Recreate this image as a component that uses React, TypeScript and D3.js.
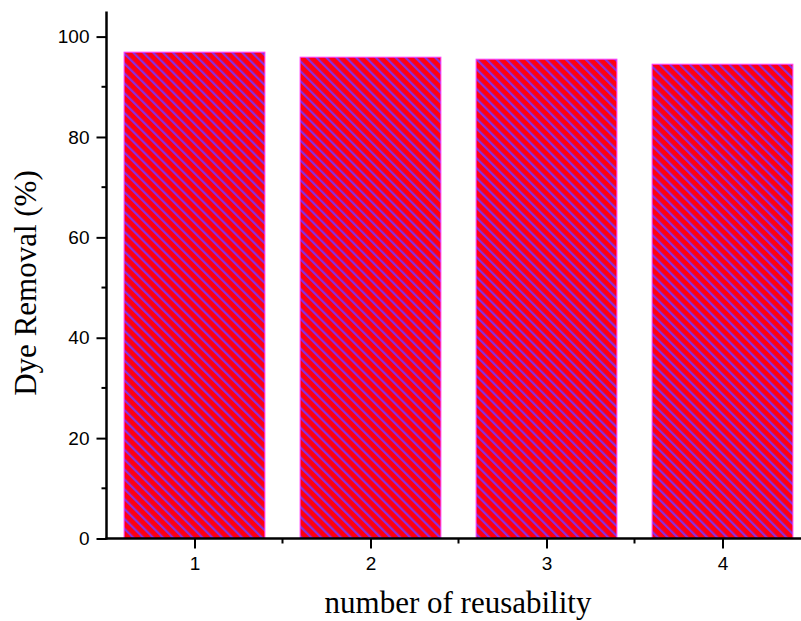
import React, { useEffect, useRef } from "react";
import * as d3 from "d3";

const cycles = [1, 2, 3, 4];
const removal = [96.9, 95.9, 95.5, 94.5];
const yTicks = [0, 20, 40, 60, 80, 100];
const yMinor = [10, 30, 50, 70, 90];
const xMinor = [1.5, 2.5, 3.5];

export default function App() {
  const svgRef = useRef<SVGSVGElement | null>(null);

  useEffect(() => {
    if (!svgRef.current) return;
    const svg = d3.select(svgRef.current);
    svg.selectAll("*").remove();

    const x = d3.scaleLinear().domain([0.5, 4.5]).range([106.5, 810.5]);
    const y = d3.scaleLinear().domain([0, 105]).range([538.5, 11.5]);
    const barW = x(1.4) - x(0.6);

    // hatch fill: red with violet "\" stripes
    const defs = svg.append("defs");
    const pat = defs
      .append("pattern")
      .attr("id", "hatch")
      .attr("patternUnits", "userSpaceOnUse")
      .attr("width", 7)
      .attr("height", 7)
      .attr("patternTransform", "rotate(-45)");
    pat.append("rect").attr("width", 7).attr("height", 7).attr("fill", "#ff0010");
    pat.append("rect").attr("width", 2.2).attr("height", 7).attr("fill", "#8a2ee0");

    svg
      .append("g")
      .selectAll("rect")
      .data(cycles)
      .join("rect")
      .attr("x", (d) => x(d) - barW / 2)
      .attr("y", (d, i) => y(removal[i]))
      .attr("width", barW)
      .attr("height", (d, i) => y(0) - y(removal[i]))
      .attr("fill", "url(#hatch)")
      .attr("stroke", "#ff40ff")
      .attr("stroke-width", 1);

    // Y axis
    const yAxis = d3
      .axisLeft(y)
      .tickValues(yTicks)
      .tickSize(10)
      .tickPadding(7)
      .tickFormat(d3.format("d"));
    const gy = svg.append("g").attr("transform", `translate(${x(0.5)},0)`).call(yAxis);
    gy.select(".domain").remove();
    gy.selectAll(".tick line").attr("stroke", "#000").attr("stroke-width", 2);
    gy.selectAll(".tick text")
      .attr("font-family", "Arial, 'Liberation Sans', sans-serif")
      .attr("font-size", 19)
      .attr("fill", "#000");
    gy.append("line")
      .attr("y1", y(105))
      .attr("y2", y(0) + 1)
      .attr("stroke", "#000")
      .attr("stroke-width", 2.5);
    gy.selectAll(".minor")
      .data(yMinor)
      .join("line")
      .attr("class", "minor")
      .attr("x1", -5)
      .attr("x2", 0)
      .attr("y1", (d) => y(d))
      .attr("y2", (d) => y(d))
      .attr("stroke", "#000")
      .attr("stroke-width", 2);

    // X axis
    const xAxis = d3
      .axisBottom(x)
      .tickValues(cycles)
      .tickSize(10)
      .tickPadding(8)
      .tickFormat(d3.format("d"));
    const gx = svg.append("g").attr("transform", `translate(0,${y(0)})`).call(xAxis);
    gx.select(".domain").remove();
    gx.selectAll(".tick line").attr("stroke", "#000").attr("stroke-width", 2);
    gx.selectAll(".tick text")
      .attr("font-family", "Arial, 'Liberation Sans', sans-serif")
      .attr("font-size", 19)
      .attr("fill", "#000");
    gx.append("line")
      .attr("x1", x(0.5) - 1)
      .attr("x2", x(4.5))
      .attr("stroke", "#000")
      .attr("stroke-width", 2.5);
    gx.selectAll(".minor")
      .data(xMinor)
      .join("line")
      .attr("class", "minor")
      .attr("x1", (d) => x(d))
      .attr("x2", (d) => x(d))
      .attr("y1", 0)
      .attr("y2", 5)
      .attr("stroke", "#000")
      .attr("stroke-width", 2);

    // titles
    svg
      .append("text")
      .attr("transform", `translate(36,283) rotate(-90)`)
      .attr("text-anchor", "middle")
      .attr("font-family", "'Times New Roman', 'Liberation Serif', serif")
      .attr("font-size", 31)
      .attr("fill", "#000")
      .text("Dye Removal (%)");

    svg
      .append("text")
      .attr("x", 458)
      .attr("y", 613)
      .attr("text-anchor", "middle")
      .attr("font-family", "'Times New Roman', 'Liberation Serif', serif")
      .attr("font-size", 31)
      .attr("fill", "#000")
      .text("number of reusability");
  }, []);

  return (
    <svg
      ref={svgRef}
      width={801}
      height={621}
      style={{ position: "absolute", left: 0, top: 0, background: "#fff" }}
    />
  );
}
